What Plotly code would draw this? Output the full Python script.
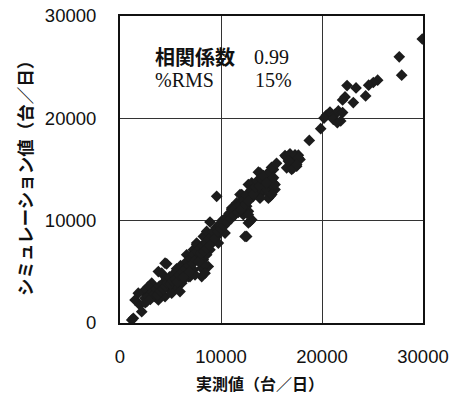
import plotly.graph_objects as go

# measured (実測値) and simulated (シミュレーション値) daily volumes
measured = [
    29930, 27650, 27890, 25510, 25080, 24620, 24320, 23370, 22480, 22280, 22040, 23100,
    20430, 20200, 20790, 21290, 21620, 22040, 21120, 21520, 21850, 19870, 18740,
    17660, 16440, 17160, 16830, 17000, 17490, 17820, 15180, 13860, 14360, 14690, 15180,
    13530, 14190, 14850, 15350, 13200,
    16340, 16830, 17330, 17650, 16500, 17160, 17490, 16670,
    13700, 15180, 14520, 14190, 15020, 14850, 15350, 14360, 14690, 15020,
    12710, 13040, 13370, 13700, 13860, 12870, 12380, 12050, 11880, 12540, 11390, 11060,
    11720, 10890, 12210, 12710, 13040, 12710, 9570,
    8910, 12540, 12870, 12710, 11060, 11550, 12210, 11880, 13040, 10890, 10230, 9900,
    10400, 9570, 9240, 9740, 8250, 8580, 8910, 8090, 7590, 7260, 7750, 6930, 8250, 8580,
    8740, 8090, 6600, 6110, 7260, 5610, 6440, 5280, 6930, 5940,
    4620, 3800, 4130, 6600, 7100, 7590, 8420, 8420, 8090, 3140, 2800, 2310, 1810, 1490,
    1980, 2150, 1160, 2640, 3470, 3800, 4130, 4460, 5120, 5450, 5780, 6110, 4790, 5450,
    6110, 6770, 4460, 3140, 3800, 5120, 5940, 6270, 7430, 7100, 2480,
    1320, 4460, 12380,
    2500, 2800, 3000, 3200, 3400, 3600, 3700, 3900, 4000, 4200, 4300, 4500, 4600, 4700,
    4900, 5000, 5200, 5300, 5500, 5600, 5700, 5900, 6000, 6200, 6300, 6500, 6600, 6800,
    6900, 7000, 7200, 7300, 7500, 7600, 7800, 7900, 8000, 8200, 8300, 8500, 8600, 8800,
    8900, 9100, 9200, 9400, 9500, 9700, 9800, 10000, 10100, 10300, 10500, 10600, 10800,
    11000, 11200, 11300, 11500, 11700, 11900, 12000, 12200, 12400, 12500, 12700, 13000,
    13200, 13400, 13600, 13800, 14000, 14200, 14500, 14800, 15000, 15500, 15200,
]
simulated = [
    27750, 26010, 24220, 23730, 23500, 23240, 22190, 22970, 23200, 22090, 21800, 21540,
    20290, 20030, 20620, 20390, 20720, 20560, 19900, 19580, 19740, 18990, 17840,
    16400, 16240, 16140, 15650, 15000, 15320, 15980, 15000, 14680, 14020, 13530, 13700,
    13700, 12870, 12380, 13040, 12380,
    16370, 16540, 16440, 16140, 15160, 15160, 15490, 15820,
    14740, 15000, 14510, 13850, 14020, 13200, 13530, 13040, 12200, 12550,
    13530, 13700, 13040, 12710, 12200, 12550, 12200, 12550, 11730, 11400, 11400, 11080,
    10910, 10420, 10590, 10910, 10100, 9770, 12380,
    9870, 8460, 9930, 10590, 11240, 11730, 12060, 12550, 12380, 10420, 9770, 9120,
    8790, 8460, 7970, 7810, 8460, 8950, 7160, 7480, 7810, 7160, 6670, 6500, 6180, 6670,
    5520, 5360, 5850, 5360, 5200, 5030, 4710, 4540, 4540, 4380,
    5780, 5030, 4870, 6670, 6180, 7650, 5690, 4870, 4540, 3890, 3560, 3070, 2910, 2250,
    1760, 1110, 290, 2090, 2580, 3070, 3560, 4050, 4220, 4710, 5030, 5360, 3400, 3560,
    3890, 4540, 2580, 2750, 2250, 2910, 3070, 4220, 4710, 5200, 2420,
    460, 5850, 8460,
    2000, 2600, 2300, 3000, 2800, 3300, 2700, 3600, 3100, 3800, 3300, 3600, 4300, 3900,
    4500, 3800, 4100, 4800, 4300, 5300, 4000, 4700, 5600, 5000, 4500, 5300, 6000, 5600,
    5000, 6300, 5800, 6700, 6200, 7000, 6000, 7300, 6800, 7600, 7000, 7900, 7300, 8200,
    7600, 8500, 8900, 8300, 9300, 8900, 9600, 9200, 10000, 9500, 10300, 9800, 10700,
    10200, 11000, 10500, 11300, 10800, 11500, 11100, 12000, 11600, 12500, 11900, 13000,
    12600, 13300, 13900, 13400, 14100, 14400, 13700, 14800, 15200, 15600, 14200,
]

tick_vals = [0, 10000, 20000, 30000]
tick_text = ["0", "10000", "20000", "30000"]

fig = go.Figure()
fig.add_trace(go.Scatter(
    x=measured, y=simulated, mode="markers",
    marker=dict(symbol="diamond", size=9, color="#1c1c1c", line=dict(width=0)),
    hoverinfo="x+y",
))

axis_common = dict(
    range=[0, 30000], tickvals=tick_vals, ticktext=tick_text,
    showgrid=True, gridcolor="#333333", gridwidth=1,
    showline=True, linecolor="#111111", linewidth=2, mirror=True,
    zeroline=False, ticks="", automargin=False,
    tickfont=dict(family="Liberation Sans, Arial, sans-serif", size=18.5, color="#111111"),
)

fig.update_layout(
    width=453, height=395,
    margin=dict(l=120, r=30, t=16, b=72, autoexpand=False),
    paper_bgcolor="white", plot_bgcolor="white",
    showlegend=False,
    xaxis=dict(**axis_common, ticklabelstandoff=16),
    yaxis=dict(**axis_common, ticklabelstandoff=18),
    font=dict(family="Noto Sans CJK JP, sans-serif", color="#111111"),
)

# white panel behind the statistics text (hides gridline)
fig.add_shape(type="rect", xref="paper", yref="paper",
              x0=0.10, x1=0.59, y0=(323 - 98) / 307, y1=(323 - 35) / 307,
              fillcolor="white", line=dict(width=0), layer="below")

serif = "Liberation Serif, Times New Roman, serif"
gothic = "Noto Sans CJK JP, sans-serif"
notes = [
    ("<b>相関係数</b>", gothic, 153, 57),
    ("0.99", serif, 252, 57),
    ("%RMS", serif, 153, 80),
    ("15%", serif, 253, 80),
]
for text, fam, px, py in notes:
    fig.add_annotation(
        text=text, xref="paper", yref="paper",
        x=(px - 120) / 303, y=(323 - py) / 307,
        xanchor="left", yanchor="middle", showarrow=False,
        font=dict(family=fam, size=20, color="#111111"),
    )

# axis titles
fig.add_annotation(
    text="<b>実測値（台／日）</b>", xref="paper", yref="paper",
    x=(260 - 120) / 303, y=(323 - 383) / 307, xanchor="center", yanchor="middle",
    showarrow=False, font=dict(family=gothic, size=16, color="#111111"),
)
fig.add_annotation(
    text="<b>シミュレーション値（台／日）</b>", xref="paper", yref="paper",
    x=(24 - 120) / 303, y=(323 - 174) / 307, xanchor="center", yanchor="middle",
    textangle=-90, showarrow=False, font=dict(family=gothic, size=17.5, color="#111111"),
)

fig.write_html(
    "out.html",
    config={"displayModeBar": False},
    post_script="document.body.style.margin='0';document.body.style.overflow='hidden';",
)
